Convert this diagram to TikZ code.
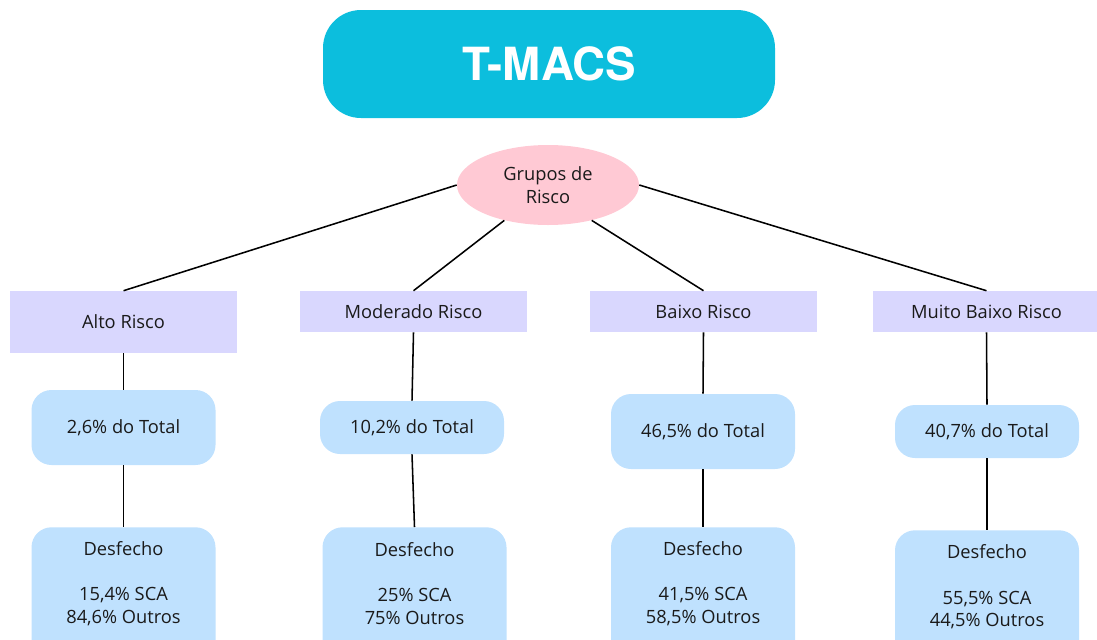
\documentclass[tikz,border=0pt]{standalone}
\usepackage{fontspec}
\setmainfont{Open Sans}
\newfontfamily\titulofont{TeX Gyre Heros}
\usetikzlibrary{shapes.geometric}

\definecolor{ciano}{HTML}{0CBEDD}
\definecolor{rosa}{HTML}{FFC9D4}
\definecolor{lavanda}{HTML}{D9D7FE}
\definecolor{azul}{HTML}{BFE1FE}
\definecolor{texto}{HTML}{1A1A1A}

\newlength\pxl
\setlength\pxl{0.025cm}

\tikzset{
  titulo/.style={rectangle, rounded corners=38\pxl, fill=ciano, inner sep=0pt,
    minimum width=452\pxl, minimum height=108\pxl, text=white,
    font=\titulofont\fontsize{32.5}{36}\selectfont\bfseries},
  grupos/.style={ellipse, fill=rosa, inner sep=0pt, minimum width=182\pxl,
    minimum height=80\pxl, align=center, text=texto,
    font=\fontsize{13}{16.3}\selectfont},
  risco/.style={rectangle, fill=lavanda, inner sep=0pt, minimum width=227\pxl,
    minimum height=41\pxl, text=texto, font=\fontsize{13}{15}\selectfont},
  total/.style={rectangle, rounded corners=20\pxl, fill=azul, inner sep=0pt,
    minimum width=184\pxl, text=texto, font=\fontsize{13}{15}\selectfont},
  desfecho/.style={rectangle, rounded corners=20\pxl, fill=azul, inner sep=0pt,
    minimum width=184\pxl, minimum height=140\pxl, anchor=north},
  desftexto/.style={align=center, inner sep=0pt, text=texto,
    font=\fontsize{13}{16.2}\selectfont},
  ligacao/.style={draw=black, line width=1.1pt}
}

\begin{document}
\begin{tikzpicture}[x=0.025cm, y=-0.025cm]
\useasboundingbox (0,0) rectangle (1097,639);
\clip (0,0) rectangle (1097,639);

% titulo e grupos de risco
\node[titulo] (tmacs) at (549,64) {T-MACS};
\node[grupos] (gr) at (548,185) {Grupos de\\Risco};

% categorias de risco
\node[risco, minimum height=62\pxl] (alto) at (123.5,322) {Alto Risco};
\node[risco] (moderado) at (413.5,311.5) {Moderado Risco};
\node[risco] (baixo) at (703.5,311.5) {Baixo Risco};
\node[risco] (muito) at (986.5,311.5) {Muito Baixo Risco};

% percentagem do total
\node[total, minimum height=75\pxl] (p1) at (123.5,427.5) {2,6\% do Total};
\node[total, minimum height=53\pxl] (p2) at (412,427.5) {10,2\% do Total};
\node[total, minimum height=75\pxl] (p3) at (703,431.5) {46,5\% do Total};
\node[total, minimum height=53\pxl] (p4) at (987,431.5) {40,7\% do Total};

% desfecho
\node[desfecho] (d1) at (123.5,527) {};
\node[desfecho] (d2) at (414.5,527) {};
\node[desfecho] (d3) at (703,527) {};
\node[desfecho] (d4) at (987,530) {};
\node[desftexto] (t1) at (123.5,583.5) {Desfecho\\ \\15,4\% SCA\\84,6\% Outros};
\node[desftexto] (t2) at (414.5,583.5) {Desfecho\\ \\25\% SCA\\75\% Outros};
\node[desftexto] (t3) at (703,583.5) {Desfecho\\ \\41,5\% SCA\\58,5\% Outros};
\node[desftexto] (t4) at (987,587) {Desfecho\\ \\55,5\% SCA\\44,5\% Outros};

% ligacoes
\draw[ligacao] (gr.west) -- (alto.north);
\draw[ligacao] (gr.219) -- (moderado.north);
\draw[ligacao] (gr.321) -- (baixo.north);
\draw[ligacao] (gr.east) -- (muito.north);
\draw[ligacao] (alto.south) -- (p1.north);
\draw[ligacao] (moderado.south) -- (p2.north);
\draw[ligacao] (baixo.south) -- (p3.north);
\draw[ligacao] (muito.south) -- (p4.north);
\draw[ligacao] (p1.south) -- (d1.north);
\draw[ligacao] (p2.south) -- (d2.north);
\draw[ligacao] (p3.south) -- (d3.north);
\draw[ligacao] (p4.south) -- (d4.north);
\end{tikzpicture}
\end{document}
